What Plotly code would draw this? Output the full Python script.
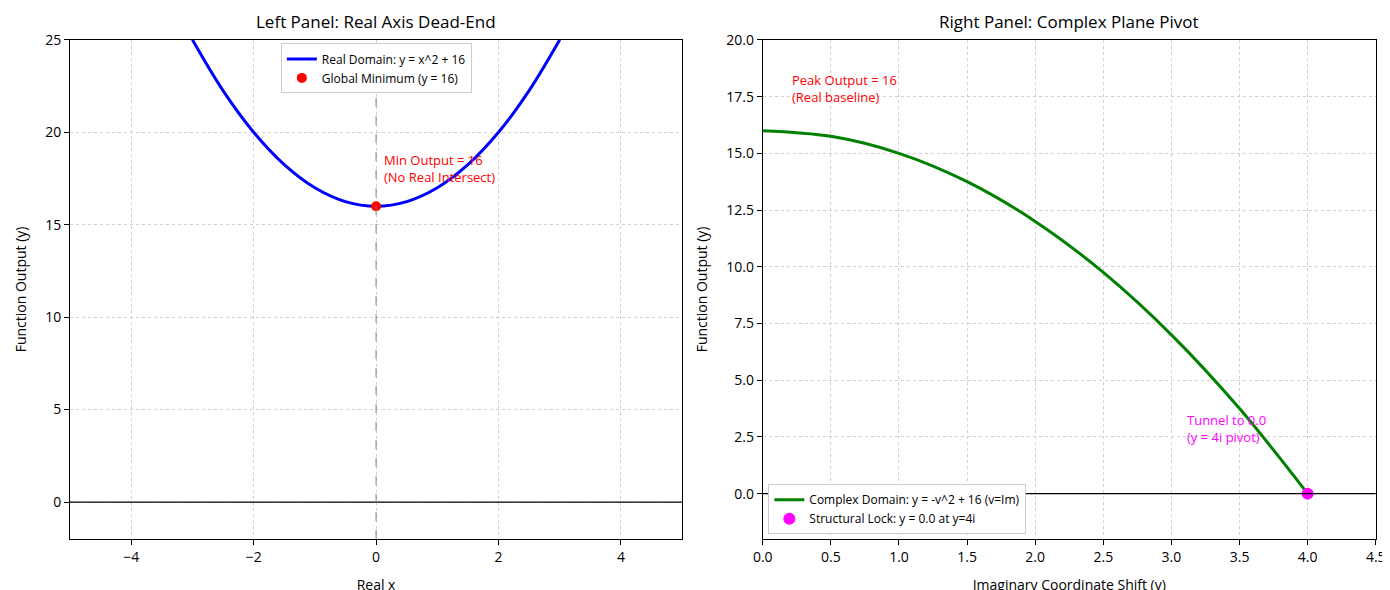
import plotly.graph_objects as go

# left panel: real domain y = x^2 + 16
real_x = [-3.0, -2.5, -2.0, -1.5, -1.0, -0.5, 0.0, 0.5, 1.0, 1.5, 2.0, 2.5, 3.0]
real_y = [25.0, 22.25, 20.0, 18.25, 17.0, 16.25, 16.0, 16.25, 17.0, 18.25, 20.0, 22.25, 25.0]
min_x, min_y = [0.0], [16.0]

# right panel: complex domain y = -v^2 + 16
cx_v = [0.0, 0.5, 1.0, 1.5, 2.0, 2.5, 3.0, 3.5, 4.0]
cx_y = [16.0, 15.75, 15.0, 13.75, 12.0, 9.75, 7.0, 3.75, 0.0]
lock_v, lock_y = [4.0], [0.0]

fnt = "Open Sans"
fig = go.Figure()

fig.add_trace(go.Scatter(x=real_x, y=real_y, mode="lines", line=dict(color="blue", width=3, shape="spline"),
                         name="Real Domain: y = x^2 + 16", xaxis="x", yaxis="y", legend="legend"))
fig.add_trace(go.Scatter(x=min_x, y=min_y, mode="markers", marker=dict(color="red", size=10),
                         name="Global Minimum (y = 16)", xaxis="x", yaxis="y", legend="legend"))
fig.add_trace(go.Scatter(x=cx_v, y=cx_y, mode="lines", line=dict(color="green", width=3, shape="spline"),
                         name="Complex Domain: y = -v^2 + 16 (v=Im)", xaxis="x2", yaxis="y2", legend="legend2"))
fig.add_trace(go.Scatter(x=lock_v, y=lock_y, mode="markers", marker=dict(color="magenta", size=12),
                         name="Structural Lock: y = 0.0 at y=4i", xaxis="x2", yaxis="y2", legend="legend2"))

ax = dict(showline=True, linecolor="black", mirror=True, ticks="outside", tickcolor="black",
          showgrid=True, gridcolor="#d0d0d0", griddash="dot", zeroline=False, automargin=False,
          tickfont=dict(size=14, color="black"), title_font=dict(size=15, color="black"))

fig.update_layout(
    width=1390, height=590, plot_bgcolor="white", paper_bgcolor="white",
    font=dict(family=fnt, color="black"),
    margin=dict(l=0, r=0, t=0, b=0),
    xaxis=dict(ax, domain=[0.0446, 0.485], range=[-5, 5], dtick=2, title="Real x"),
    yaxis=dict(ax, domain=[0.1, 0.946], range=[-2, 25], dtick=5, title="Function Output (y)"),
    xaxis2=dict(ax, domain=[0.543, 0.984], range=[0, 4.5], dtick=0.5, tickformat=".1f", anchor="y2",
                title="Imaginary Coordinate Shift (v)"),
    yaxis2=dict(ax, domain=[0.1, 0.946], range=[-2, 20.001], dtick=2.5, tickformat=".1f", anchor="x2",
                title="Function Output (y)"),
    legend=dict(x=0.265, xanchor="center", y=0.94, yanchor="top", bordercolor="#cccccc",
                borderwidth=1, font=dict(size=12), bgcolor="white"),
    legend2=dict(x=0.547, xanchor="left", y=0.108, yanchor="bottom", bordercolor="#cccccc",
                 borderwidth=1, font=dict(size=12), bgcolor="white"),
    shapes=[
        dict(type="line", xref="x domain", yref="y", x0=0, x1=1, y0=0, y1=0, line=dict(color="black", width=1.2)),
        dict(type="line", xref="x", yref="y domain", x0=0, x1=0, y0=0, y1=1, line=dict(color="gray", width=1, dash="dash")),
        dict(type="line", xref="x2 domain", yref="y2", x0=0, x1=1, y0=0, y1=0, line=dict(color="black", width=1.2)),
    ],
    annotations=[
        dict(text="Left Panel: Real Axis Dead-End", xref="paper", yref="paper", x=0.265, y=0.955,
             xanchor="center", yanchor="bottom", showarrow=False, font=dict(size=17)),
        dict(text="Right Panel: Complex Plane Pivot", xref="paper", yref="paper", x=0.7635, y=0.955,
             xanchor="center", yanchor="bottom", showarrow=False, font=dict(size=17)),
        dict(text="Min Output = 16<br>(No Real Intersect)", xref="x", yref="y", x=0.1, y=17, xanchor="left",
             yanchor="bottom", align="left", showarrow=False, font=dict(size=13, color="red")),
        dict(text="Peak Output = 16<br>(Real baseline)", xref="x2", yref="y2", x=0.2, y=17, xanchor="left",
             yanchor="bottom", align="left", showarrow=False, font=dict(size=13, color="red")),
        dict(text="Tunnel to 0.0<br>(y = 4i pivot)", xref="x2", yref="y2", x=3.1, y=2, xanchor="left",
             yanchor="bottom", align="left", showarrow=False, font=dict(size=13, color="magenta")),
    ],
)

fig.write_html("out.html")
